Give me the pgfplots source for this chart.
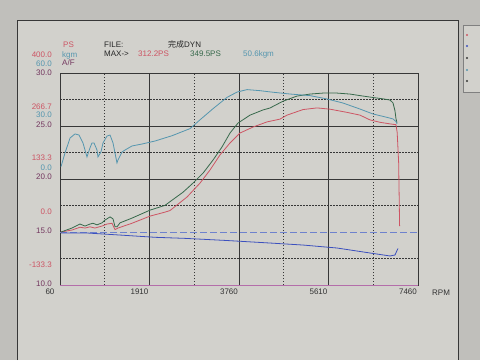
\documentclass[border=0pt]{standalone}
\usepackage{pgfplots}
\pgfplotsset{compat=1.18}
\usepackage{fontspec}
\setmainfont{Liberation Sans}
\newfontfamily\cjk{Noto Sans CJK JP}
\definecolor{paper}{RGB}{210,209,204}
\definecolor{paperdark}{RGB}{192,191,187}
\definecolor{psred}{RGB}{205,85,100}
\definecolor{psgreen}{RGB}{55,105,75}
\definecolor{tqteal}{RGB}{85,150,175}
\definecolor{afblue}{RGB}{60,80,190}
\definecolor{afdash}{RGB}{110,130,205}
\definecolor{afpurple}{RGB}{115,55,95}
\definecolor{gridc}{RGB}{55,55,55}
\definecolor{baseln}{RGB}{180,110,170}
\pgfplotsset{sheet/.style={scale only axis, width=358pt, height=212pt,
  at={(60pt,75pt)}, anchor=south west, xmin=60, xmax=7460}}
\begin{document}
\begin{tikzpicture}[x=1pt,y=1pt]
\useasboundingbox (0,0) rectangle (480,360);
\fill[paperdark] (0,0) rectangle (480,360);
\fill[paper] (17,0) rectangle (458,340);
\draw[gridc, line width=0.6pt] (17,0) -- (17,340) -- (458,340) -- (458,0);
\draw[gray, line width=0.5pt, fill=paper] (463,335) rectangle (482,268);
\foreach \yy/\cc in {325/psred,314/afblue,302/gridc,290/tqteal,279/gridc}{
  \fill[\cc] (467,\yy) circle (1.2);}
\begin{axis}[sheet, ymin=10, ymax=30,
  xtick={60,1910,3760,5610,7460}, xticklabels={60,1910,3760,5610,7460},
  minor xtick={985,2835,4685,6535},
  ytick={10,20,25,30}, yticklabels={}, minor ytick={12.5,17.5,22.5,27.5},
  grid=both, major grid style={gridc, line width=0.6pt},
  minor grid style={gridc, line width=0.6pt, dash pattern=on 1.5pt off 1.5pt},
  major tick length=0pt, minor tick length=0pt,
  axis line style={gridc, line width=0.7pt},
  xticklabel style={font=\fontsize{8}{9}\selectfont, xshift=-10pt, text=black!80},
  ]
\addplot[afdash, dash pattern=on 7pt off 3pt, line width=0.8pt] coordinates {(60,15) (7460,15)};
\addplot[afblue, line width=0.8pt] coordinates {
(81,14.9) (639,14.9) (1342,14.7) (2024,14.5) (2644,14.4) (3500,14.2) (4401,13.96)
(5083,13.77) (5786,13.49) (6468,13.02) (6881,12.74) (6984,12.83) (7046,13.45)};
\draw[baseln, line width=1pt] (axis cs:60,10) -- (axis cs:7460,10);
\end{axis}
\begin{axis}[sheet, hide axis, ymin=-133.3, ymax=400]
\addplot[psred, line width=0.8pt] coordinates {
(81,0) (308,5) (473,12) (577,10) (680,13) (783,10) (928,15) (1031,20) (1135,22)
(1197,6) (1259,10) (1548,22) (1920,40) (2230,50) (2334,54) (2685,88) (2954,123)
(3161,156) (3368,194) (3574,224) (3781,249) (4049,264) (4339,277) (4607,284)
(4752,294) (5083,308) (5372,312.2) (5641,309) (5992,301) (6261,294) (6468,282)
(6674,276) (6881,272) (7005,270) (7030,250) (7060,175) (7080,15)};
\addplot[psgreen, line width=0.8pt] coordinates {
(81,0) (308,10) (473,20) (577,15) (680,20) (742,22) (825,18) (928,23) (990,30)
(1094,38) (1156,33) (1197,13) (1238,13) (1300,23) (1548,35) (1920,55) (2230,67)
(2375,80) (2602,100) (2809,123) (3016,148) (3223,181) (3409,214) (3574,249)
(3739,274) (3987,294) (4256,307) (4401,312) (4669,329) (4959,342) (5228,347)
(5496,349.5) (5786,349.5) (6054,347) (6323,342) (6612,337) (6736,335) (6881,332)
(6943,325) (6984,305) (7005,285) (7026,275)};
\end{axis}
\begin{axis}[sheet, hide axis, ymin=-60, ymax=60]
\addplot[tqteal, line width=0.8pt] coordinates {
(81,7) (163,14.7) (267,23.2) (370,25.5) (453,24.9) (535,20.4) (618,12.5) (680,17.6)
(721,20.4) (763,20.4) (825,16.4) (845,12.5) (907,15.3) (949,20.4) (1031,24.3)
(1094,24.9) (1156,20.4) (1197,14.7) (1238,9.1) (1259,10.8) (1342,15.3) (1404,16.4)
(1548,18.7) (1755,19.8) (2024,21.5) (2375,24.5) (2560,26.5) (2747,28.5) (2954,33.5)
(3223,39.8) (3512,46.2) (3719,49.2) (3925,50.6) (4194,50.0) (4401,49.3) (4814,48.1)
(5228,47.2) (5579,45.3) (5910,43.0) (6261,39.6) (6530,36.8) (6819,34.9) (6943,34.0)
(7005,32.5) (7026,31.2)};
\end{axis}
\begin{scope}[every node/.style={font=\fontsize{8}{9}\selectfont, inner sep=0pt}]
\node[anchor=east, text=psred] at (52,305) {400.0};
\node[anchor=east, text=tqteal] at (52,296) {60.0};
\node[anchor=east, text=afpurple] at (52,287) {30.0};
\node[anchor=east, text=psred] at (52,253) {266.7};
\node[anchor=east, text=tqteal] at (52,245) {30.0};
\node[anchor=east, text=afpurple] at (52,235) {25.0};
\node[anchor=east, text=psred] at (52,202) {133.3};
\node[anchor=east, text=tqteal] at (52,192) {0.0};
\node[anchor=east, text=afpurple] at (52,183) {20.0};
\node[anchor=east, text=psred] at (52,148) {0.0};
\node[anchor=east, text=afpurple] at (52,129) {15.0};
\node[anchor=east, text=psred] at (52,95) {-133.3};
\node[anchor=east, text=afpurple] at (52,76) {10.0};
\node[anchor=west, text=psred] at (63,315) {PS};
\node[anchor=west, text=tqteal] at (62,305) {kgm};
\node[anchor=west, text=afpurple] at (62,297) {A/F};
\node[anchor=west, text=black!85] at (104,315) {FILE:};
\node[anchor=west, text=black!85] at (168,316) {{\cjk 完成}DYN};
\node[anchor=west, text=black!85] at (104,306) {MAX-{}>};
\node[anchor=west, text=psred] at (138,306) {312.2PS};
\node[anchor=west, text=psgreen] at (190,306) {349.5PS};
\node[anchor=west, text=tqteal] at (243,306) {50.6kgm};
\node[anchor=west, text=black!80] at (432,67) {RPM};
\end{scope}
\end{tikzpicture}
\end{document}
